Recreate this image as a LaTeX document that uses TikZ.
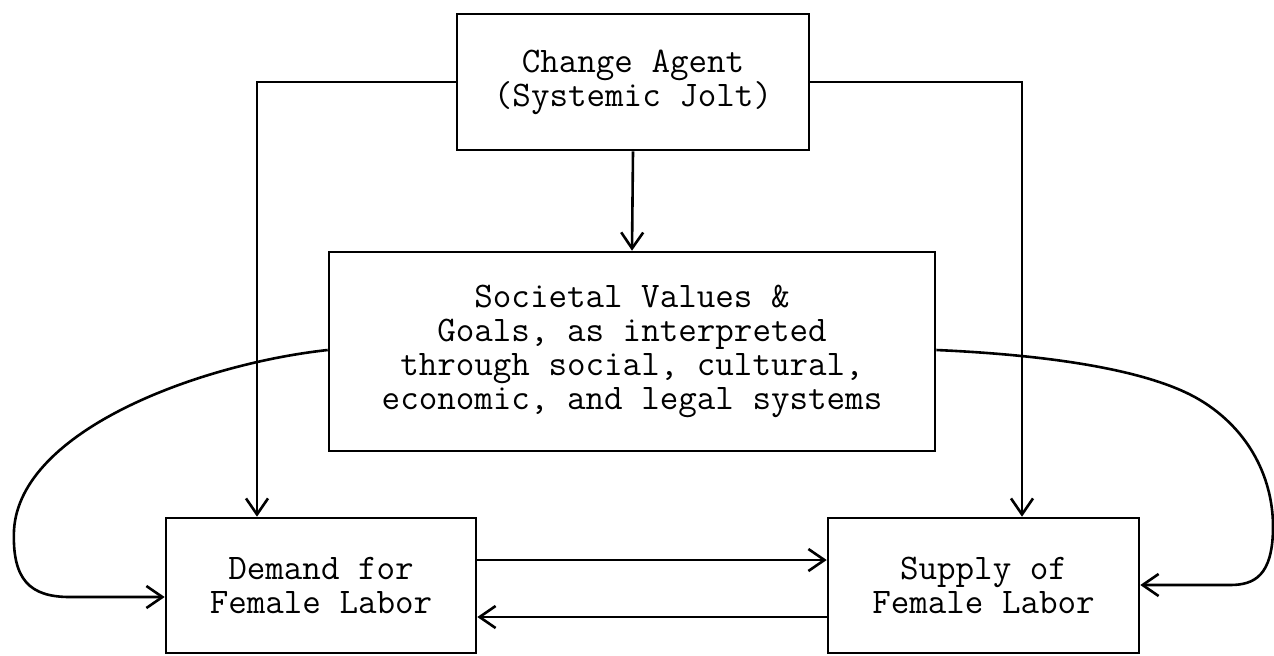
\documentclass[tikz,border=0pt]{standalone}
\usetikzlibrary{arrows.meta}
\begin{document}
\begin{tikzpicture}[x=0.5pt,y=-0.5pt,
  line width=1.3pt,
  box/.style={draw, rectangle, align=center, inner sep=0pt,
    font=\fontsize{18pt}{16.9pt}\ttfamily},
  arr/.style={-{Straight Barb[length=8pt,width=11pt]}}]
\useasboundingbox (0,0) rectangle (1274,655);

% boxes
\node[box, minimum width=176pt, minimum height=68pt] (agent) at (633,82)
  {Change Agent\\(Systemic Jolt)};
\node[box, minimum width=303pt, minimum height=99.5pt] (values) at (632,351.5)
  {Societal Values \&\\Goals, as interpreted\\through social, cultural,\\economic, and legal systems};
\node[box, minimum width=155pt, minimum height=67.5pt] (demand) at (321,585.5)
  {Demand for\\Female Labor};
\node[box, minimum width=155.5pt, minimum height=67.5pt] (supply) at (983.5,585.5)
  {Supply of\\Female Labor};

% bends and levels of the connectors
\coordinate (lk) at (257,82);
\coordinate (rk) at (1022,82);
\coordinate (upper) at (0,560);
\coordinate (lower) at (0,617);

% change agent to everything below it
\draw[arr] (agent.south) -- (values.north);
\draw[arr] (agent.west) -- (lk) -- (lk |- demand.north);
\draw[arr] (agent.east) -- (rk) -- (rk |- supply.north);

% demand and supply
\draw[arr] (demand.east |- upper) -- (supply.west |- upper);
\draw[arr] (supply.west |- lower) -- (demand.east |- lower);

% societal values feeding both markets
\draw[arr] (values.west |- 0,350) .. controls (200,364) and (20,430) .. (14,530)
  .. controls (12,580) and (30,597) .. (70,597) -- (demand.west |- 0,597);
\draw[arr] (values.east |- 0,350) .. controls (1050,355) and (1150,370) .. (1200,400)
  .. controls (1250,430) and (1274,480) .. (1273,530)
  .. controls (1272,575) and (1255,585) .. (1230,585) -- (supply.east |- 0,585);
\end{tikzpicture}
\end{document}
